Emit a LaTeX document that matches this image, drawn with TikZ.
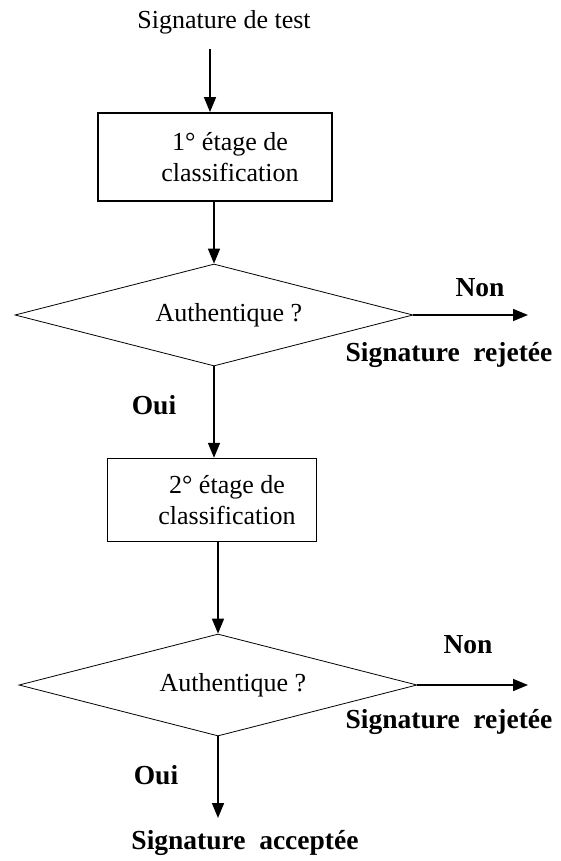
\documentclass[tikz,border=0pt]{standalone}
\usepackage{fontspec}
\setmainfont{Liberation Serif}
\usetikzlibrary{positioning, arrows.meta, shapes.geometric}
\newcommand{\dec}{\hspace*{30pt}}

\begin{document}
\begin{tikzpicture}[
    x=1pt, y=-1pt,
    etage/.style={draw, line width=1.8pt, minimum width=234pt, minimum height=88pt, align=center, inner sep=0pt},
    test/.style={draw, diamond, aspect=3.9, line width=0.8pt, minimum width=398pt, minimum height=102pt, inner sep=0pt},
    fleche/.style={-{Triangle[length=15pt, width=12pt]}, line width=1.6pt},
    gras/.style={font=\fontsize{27.5}{32}\selectfont\bfseries},
    every node/.style={font=\fontsize{26}{31}\selectfont}
]
\useasboundingbox (0,0) rectangle (560,861);

% Entree
\node (titre) at (224,22) {Signature de test};
\coordinate (depart) at (210,49);

% Premier etage
\node[etage] (etage1) at (215,157) {\dec 1° étage de\\\dec classification};
\node[test] (test1) at (214,315) {\dec Authentique ?};
\coordinate (rejet1) at (528,315);
\node[gras] (non1) at (480,288) {Non};
\node[gras] (sig1) at (449,355) {Signature~ rejetée};
\node[gras] (oui1) at (154,405) {Oui};

% Second etage
\node[etage, line width=1.4pt, minimum width=209pt, minimum height=83pt] (etage2) at (212,500) {\dec 2° étage de\\\dec classification};
\node[test] (test2) at (218,685) {\dec Authentique ?};
\coordinate (rejet2) at (528,685);
\node[gras] (non2) at (468,645) {Non};
\node[gras] (sig2) at (449,722) {Signature~ rejetée};
\node[gras] (oui2) at (156,775) {Oui};

% Sortie
\coordinate (fin) at (218,818);
\node[gras] (accept) at (245,843) {Signature~ acceptée};

% Arrows
\draw[fleche] (depart) -- (depart |- etage1.north);
\draw[fleche] (test1.north |- etage1.south) -- (test1.north);
\draw[fleche] (test1.east) -- (rejet1);
\draw[fleche] (test1.south) -- (test1.south |- etage2.north);
\draw[fleche] (test2.north |- etage2.south) -- (test2.north);
\draw[fleche] (test2.east) -- (rejet2);
\draw[fleche] (test2.south) -- (fin);

\end{tikzpicture}
\end{document}
